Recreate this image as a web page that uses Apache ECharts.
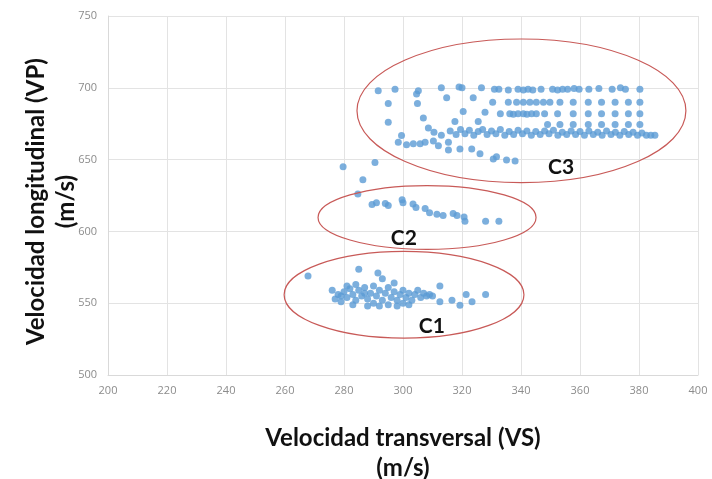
<!DOCTYPE html>
<html>
<head>
<meta charset="utf-8">
<script src="https://cdn.jsdelivr.net/npm/echarts@6/dist/echarts.min.js"></script>
<style>
  html, body { margin: 0; padding: 0; background: #fff; }
  #chart { width: 712px; height: 479px; }
</style>
</head>
<body>
<div id="chart"></div>
<script>
// ejes
var xTicks = [200, 220, 240, 260, 280, 300, 320, 340, 360, 380, 400];
var yTicks = [500, 550, 600, 650, 700, 750];

// grupo C1 [VS, VP]
var c1Points = [
  [267.8, 569], [285, 573.6], [291.5, 571], [293, 567], [297, 564], [312.5, 562],
  [276, 559], [277, 553], [278, 556], [279, 551], [280, 558], [281, 554], [282, 560],
  [283, 556], [284, 552], [285, 559], [286, 555], [287, 561], [288, 553], [289, 557],
  [290, 550], [290, 562], [291, 555], [292, 559], [293, 552], [294, 557], [295, 561],
  [295, 549], [296, 554], [297, 558], [298, 552], [299, 556], [300, 550], [300, 559],
  [301, 554], [302, 557], [303, 552], [304, 556], [305, 559], [306, 554], [307, 557],
  [308, 555], [309, 556], [310, 555], [283, 549], [288, 548], [292, 548], [298, 548],
  [302, 549], [287, 557], [279, 555], [281, 562], [284, 563],
  [312.5, 551], [316.6, 552], [319.3, 548.6], [321.4, 556], [323.4, 551], [328, 556]
];

// grupo C2
var c2Points = [
  [279.7, 645], [290.5, 648], [286.4, 636], [284.7, 626], [289.5, 618.8], [291, 620],
  [294, 619.4], [295, 618], [299.7, 622], [300, 620], [303.4, 619], [304.4, 616.7],
  [307.5, 616], [309, 613], [311.5, 612], [313.6, 611], [317, 612.5], [318.3, 611],
  [320.7, 610], [321, 607], [328, 607], [332.5, 607]
];

// grupo C3
var c3Points = [
  // fila ~700
  [291.6, 698], [297.3, 699], [305.2, 698], [304.6, 695.6], [313, 700], [319, 700.5],
  [320, 700], [326.6, 700], [331, 699], [332.5, 699], [335.7, 698.5], [339, 699],
  [340.8, 698.5], [342.4, 699], [344, 698.5], [346.8, 699], [350.7, 699], [352.4, 698.5],
  [354.1, 699], [355.8, 699], [358, 699.5], [359.7, 699], [363, 699], [366.4, 699.5],
  [370.9, 699], [373.7, 700], [375.4, 699], [380.3, 699],
  // fila ~690
  [295, 689], [304.9, 689], [314.8, 693], [323.8, 693], [330.4, 690], [335.7, 690],
  [338.5, 690], [340.8, 690], [343, 690], [345.2, 690], [347.6, 690], [349.8, 690],
  [353.2, 690], [357.7, 690], [362.8, 690], [367.3, 690], [371.9, 690], [376.4, 690],
  [380.3, 690],
  // fila ~682
  [320.4, 683.5], [327.8, 683], [333, 682], [336.2, 682], [337.4, 681.5], [339, 682],
  [340.8, 682], [342, 681.5], [343.6, 682], [345.2, 682], [348, 682], [352.4, 682],
  [357.7, 682], [362.8, 682], [367.3, 682], [371.9, 682], [376.4, 682], [380.3, 682],
  // fila ~675
  [295, 676], [306.9, 679], [317.6, 676.6], [325.5, 676.6], [349, 674.5], [353.2, 674.5],
  [357.7, 674.5], [362.8, 674.5], [367.3, 674.5], [371.9, 674.5], [376.4, 674.5], [380.3, 674.5],
  // banda densa
  [308.6, 672], [310.5, 669], [313, 667], [316, 670], [318, 667.5], [319.5, 671],
  [321, 668], [322.5, 670.5], [324, 667], [325.5, 669.5], [327, 671], [328.5, 667.5],
  [330, 670], [331.5, 668], [333, 671], [334.5, 667], [336, 669.5], [337.5, 667.5],
  [339, 670.5], [340.5, 668], [342, 670], [343.5, 667], [345, 669.5], [346.5, 667.5],
  [348, 670], [349.5, 668], [351, 670.5], [352.5, 667], [354, 669], [355.5, 667.5],
  [357, 670], [358.5, 667.5], [360, 669.5], [361.5, 667], [363, 670], [364.5, 667.5],
  [366, 669], [367.5, 667], [369, 670], [370.5, 667.5], [372, 669], [373.5, 667],
  [375, 669.5], [376.5, 667.5], [378, 669], [379.5, 667], [381, 668.5], [382.5, 667],
  [384, 667], [385.4, 667],
  // debajo de la banda
  [299.5, 666.7], [298.4, 662], [301.2, 660.4], [303.5, 661], [305.8, 661], [307.5, 662],
  [310.3, 663], [312, 659.7], [315.4, 662], [315.4, 656.7], [319.3, 657.4], [323.3, 657.4],
  [326.1, 654], [330.6, 650.5], [331.7, 652], [335.1, 649.8], [338, 649]
];

// elipses: [vsMin, vsMax, vpMin, vpMax]
var ellipseBounds = [
  [259.7, 341, 525.7, 586.1],
  [271.2, 345.1, 587.5, 631.9],
  [284.4, 395.9, 634, 734]
];
var groupLabels = ['C1', 'C2', 'C3'];
var labelPos = [[309.8, 534], [300.3, 595.1], [353.6, 644.4]];

var chart = echarts.init(document.getElementById('chart'));

var allPoints = c1Points.concat(c2Points, c3Points);

var option = {
  animation: false,
  grid: { left: 108, right: 14, top: 16, bottom: 104, outerBoundsMode: 'none', containLabel: false },
  xAxis: {
    type: 'value',
    min: xTicks[0], max: xTicks[xTicks.length - 1], interval: 20,
    name: 'Velocidad transversal (VS)\n(m/s)',
    nameLocation: 'middle', nameGap: 48, nameMoveOverlap: false,
    nameTextStyle: { fontFamily: 'Lato', fontWeight: 'bold', fontSize: 24, color: '#111', lineHeight: 30 },
    axisLine: { lineStyle: { color: '#d9d9d9' } },
    axisTick: { show: false },
    axisLabel: { color: '#8c8c8c', fontSize: 11, fontFamily: 'Open Sans', margin: 10 },
    splitLine: { lineStyle: { color: '#e3e3e3' } }
  },
  yAxis: {
    type: 'value',
    min: yTicks[0], max: yTicks[yTicks.length - 1], interval: 50,
    name: 'Velocidad longitudinal (VP)\n(m/s)',
    nameLocation: 'middle', nameGap: 27, nameRotate: 90, nameMoveOverlap: false,
    nameTextStyle: { fontFamily: 'Lato', fontWeight: 'bold', fontSize: 24, color: '#111', lineHeight: 30, padding: [0, 12, 0, 0] },
    axisLine: { show: true, lineStyle: { color: '#d9d9d9' } },
    axisTick: { show: false },
    axisLabel: { color: '#8c8c8c', fontSize: 11, fontFamily: 'Open Sans', margin: 11 },
    splitLine: { lineStyle: { color: '#e3e3e3' } }
  },
  series: [{
    type: 'scatter',
    data: allPoints,
    symbolSize: 7,
    itemStyle: { color: '#5b9bd5' }
  }]
};
chart.setOption(option);

// elipses y etiquetas sobre el gráfico
var elements = [];
ellipseBounds.forEach(function (b) {
  var p1 = chart.convertToPixel({ gridIndex: 0 }, [b[0], b[3]]);
  var p2 = chart.convertToPixel({ gridIndex: 0 }, [b[1], b[2]]);
  elements.push({
    type: 'ellipse',
    shape: { cx: (p1[0] + p2[0]) / 2, cy: (p1[1] + p2[1]) / 2, rx: (p2[0] - p1[0]) / 2, ry: (p2[1] - p1[1]) / 2 },
    style: { fill: 'none', stroke: '#c85a58', lineWidth: 1.2 },
    z: 10
  });
});
groupLabels.forEach(function (t, i) {
  var p = chart.convertToPixel({ gridIndex: 0 }, labelPos[i]);
  elements.push({
    type: 'text',
    x: p[0], y: p[1],
    style: { text: t, fontFamily: 'Lato', fontWeight: 'bold', fontSize: 21, fill: '#111', align: 'center', verticalAlign: 'middle' },
    z: 11
  });
});
chart.setOption({ graphic: { elements: elements } });
</script>
</body>
</html>
